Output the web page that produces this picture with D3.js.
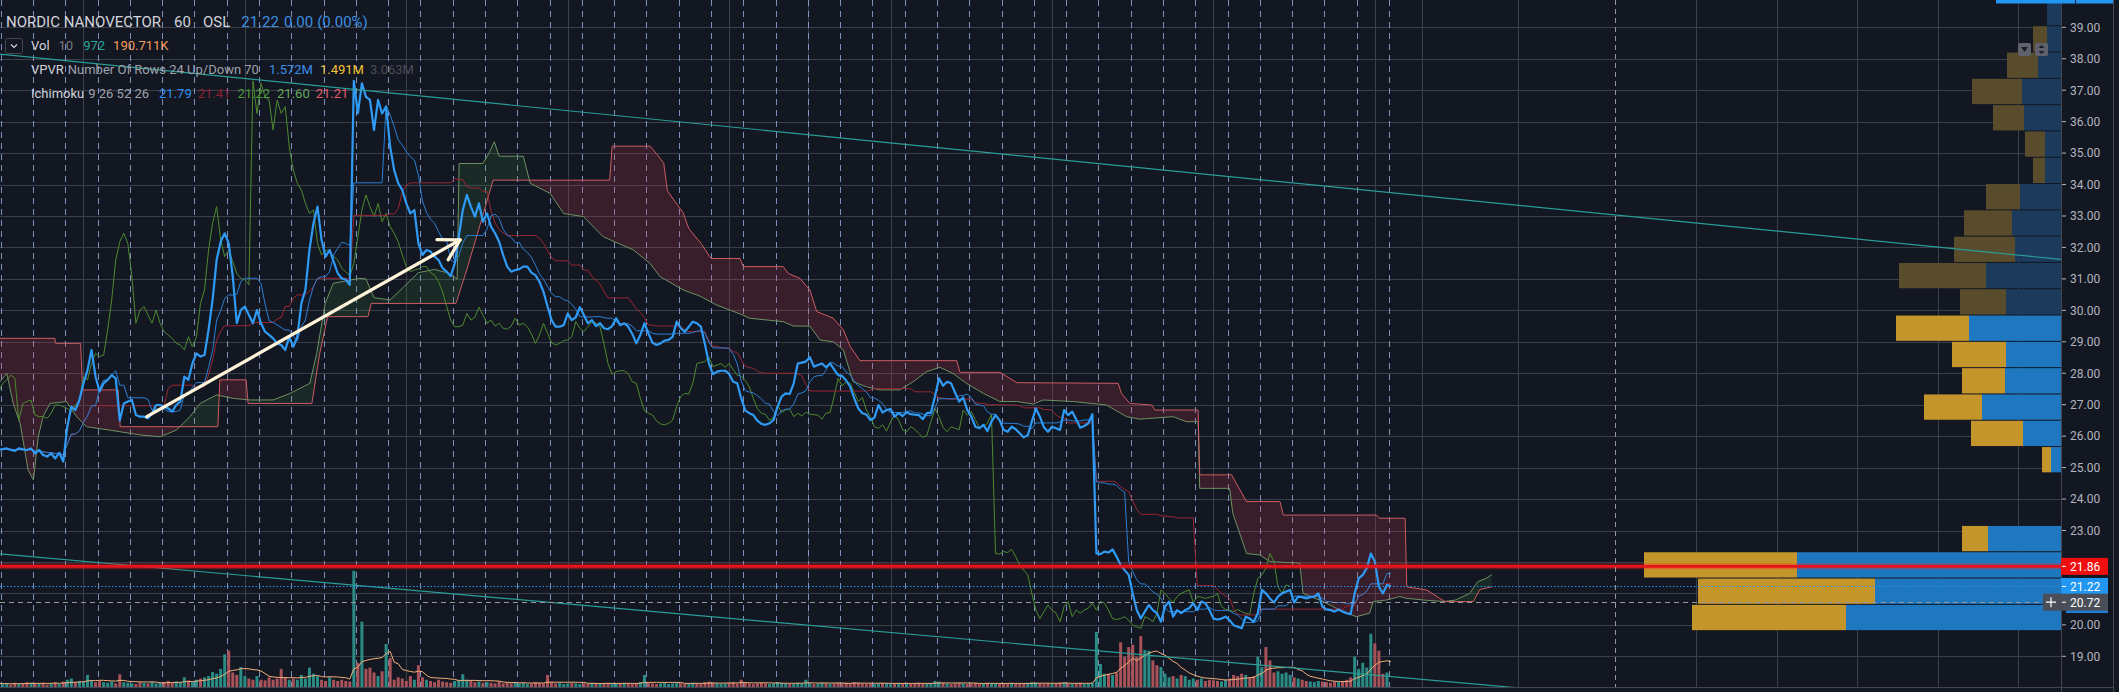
<!DOCTYPE html>
<html><head><meta charset="utf-8">
<script src="https://cdn.jsdelivr.net/npm/d3@7"></script>
<style>
html,body{margin:0;padding:0;background:#131722;overflow:hidden}
svg{display:block}
text{font-family:Roboto,"Noto Sans",sans-serif}
</style></head><body>
<svg id="c" width="2119" height="692"></svg>
<script>
// ---------------- DATA ----------------
const closes = [
25.56,
25.59,25.61,25.56,25.53,25.61,25.58,25.56,25.61,
25.45,25.56,25.40,25.35,25.45,25.29,25.47,25.19,
26.30,26.94,26.83,27.15,27.68,28.10,28.74,27.89,
27.42,27.68,27.79,27.94,27.84,26.50,27.04,27.10,
27.15,26.67,26.62,26.62,26.57,26.73,26.99,26.99,
26.94,26.88,26.78,26.99,27.10,27.89,27.79,28.31,
28.63,28.53,28.58,29.38,30.33,31.60,32.18,32.45,
32.13,31.07,29.59,30.01,30.12,29.85,29.59,30.01,
29.59,29.32,29.22,29.11,28.95,28.90,28.74,29.16,
28.84,29.16,30.22,30.65,31.92,32.77,33.30,32.24,
31.71,31.92,31.55,31.18,31.02,30.97,30.81,37.30,
36.26,37.22,36.79,36.69,35.73,36.69,36.26,36.48,
35.20,34.46,34.04,33.83,33.40,33.08,33.19,32.13,
31.76,31.92,31.87,31.71,31.60,31.34,31.23,31.09,
31.49,32.34,33.19,33.67,33.30,32.98,33.40,32.82,
33.08,32.66,32.45,32.18,31.76,31.39,31.23,31.28,
31.31,31.39,31.39,31.20,31.12,30.91,30.59,30.12,
29.69,29.48,29.48,29.53,29.90,29.69,29.78,30.10,
29.85,29.59,29.69,29.50,29.59,29.43,29.40,29.50,
29.75,29.53,29.59,29.48,29.25,28.95,29.22,29.59,
29.27,28.97,28.90,28.95,29.04,29.06,29.16,29.64,
29.43,29.32,29.48,29.64,29.59,29.48,28.92,28.30,
27.97,28.05,28.08,28.08,27.98,27.73,27.68,27.20,
26.81,26.73,26.67,26.49,26.39,26.36,26.41,26.51,
26.94,27.26,27.36,27.34,27.68,28.31,28.34,28.37,
28.51,28.21,28.26,28.31,28.19,28.31,28.12,27.94,
27.91,27.77,27.57,27.20,26.88,26.73,26.69,26.51,
26.59,26.99,26.75,26.83,26.86,26.62,26.73,26.64,
26.76,26.70,26.68,26.67,26.54,26.73,26.75,27.26,
27.84,27.60,27.73,27.68,27.38,27.10,27.23,26.83,
26.62,26.30,26.25,26.36,26.16,26.46,26.67,26.51,
26.20,26.14,26.30,26.22,26.09,25.96,26.03,26.46,
26.88,26.62,26.28,26.14,26.30,26.25,26.20,26.83,
26.67,26.78,26.53,26.27,26.32,26.41,26.70,22.27,
22.25,22.33,22.30,22.40,22.17,21.90,21.74,21.59,
21.00,20.47,20.20,20.42,20.63,20.47,20.37,20.10,
20.58,20.74,20.26,20.47,20.37,20.47,20.53,20.69,
20.47,20.74,20.69,20.47,20.20,20.17,20.20,20.26,
20.15,19.99,19.94,19.89,20.26,20.20,20.10,20.37,
21.11,21.00,20.84,20.71,20.90,21.00,21.06,21.11,
20.71,20.90,20.88,20.84,20.88,20.90,21.00,20.58,
20.49,20.47,20.42,20.49,20.42,20.37,20.34,21.00,
21.48,21.59,21.80,22.27,22.01,21.21,21.00,21.27,
21.22
];
// hourly volume, thousands of shares
const volumes = [
30,
25,30,20,35,25,30,40,35,
30,25,35,20,30,40,25,45,
60,70,40,50,45,100,55,40,
50,40,35,45,30,105,40,35,
30,25,40,35,30,45,30,35,
40,50,35,45,40,80,55,45,
60,70,80,90,125,110,150,270,
300,120,100,165,90,70,60,90,
60,55,80,60,70,150,80,60,
70,60,100,70,160,110,90,60,
50,80,60,50,60,50,45,960,
200,540,150,160,120,90,130,355,
240,60,80,70,50,90,60,180,
80,60,50,40,60,45,40,35,
50,60,105,60,50,40,45,35,
40,35,30,45,30,35,30,40,
30,35,25,30,40,35,30,100,
40,30,35,25,30,35,30,25,
30,25,35,30,25,30,35,30,
25,30,35,30,25,30,40,100,
35,30,25,30,35,25,30,35,
30,25,30,35,30,25,40,45,
35,30,25,30,35,40,30,60,
35,30,25,30,35,30,25,30,
40,35,30,25,30,35,30,60,
30,25,30,35,30,25,30,35,
30,35,30,40,35,30,25,30,
25,30,35,30,25,30,35,30,
30,25,30,35,30,25,30,50,
45,35,30,25,30,35,30,25,
30,35,25,30,35,30,25,30,
25,30,35,30,25,30,35,40,
35,30,25,30,25,30,35,40,
30,25,30,35,25,30,35,455,
190,110,110,100,120,370,250,330,
350,250,420,305,300,220,180,165,
110,80,90,70,100,90,60,70,
60,70,50,60,55,50,45,60,
70,100,90,110,100,80,90,250,
165,330,220,120,130,110,120,100,
80,70,60,50,45,40,50,45,
40,35,45,40,50,60,80,250,
150,200,160,440,360,300,110,120,
0.972
];
const volUpOverride = [272,273,285,288,290,312,313,336,337,338];
const volDownOverride = [278,341,342,343];

// Ichimoku leading spans: [bar index, price] vertices
const leadA = [[0,27.68],[2,28.0],[3.6,27.04],[5.3,26.41],[7.3,24.92],[8.6,24.61],[9.8,25.98],[11,26.62],[12.7,27.04],[16.8,27.10],[19.3,26.62],[21.8,26.30],[27.6,26.19],[35,26.04],[40,25.98],[44,26.19],[47.4,26.62],[49.9,27.04],[54,27.31],[58.1,27.2],[62.3,27.15],[68,27.15],[72.2,27.36],[77.1,27.68],[78.8,28.63],[80.9,30.22],[82.9,30.86],[89.5,31.02],[91,31.0],[93,30.4],[97,30.33],[100,30.7],[104,31.2],[108,31.3],[111,31.2],[113.6,31.0],[114.1,34.67],[120,34.67],[121.5,35.0],[122.8,35.36],[124,34.9],[130,34.9],[131.7,34.04],[136.6,33.72],[140,33.08],[144.9,32.98],[149.8,32.34],[157.3,31.92],[161.4,31.49],[163.9,31.07],[169.6,30.65],[173.8,30.45],[177.9,30.17],[184.4,29.85],[186,29.75],[194.4,29.64],[196.9,29.5],[201,29.5],[203.5,29.06],[206.8,29.0],[209.3,28.74],[211.7,27.73],[215,27.57],[218.4,27.47],[223.3,27.47],[226.6,27.73],[229.9,28.05],[233.2,28.19],[236.5,27.99],[239.8,27.68],[244,27.36],[248.1,27.10],[252.3,27.10],[256.4,27.02],[258.8,27.15],[266.3,27.10],[274.5,26.99],[279.5,26.62],[282.8,26.54],[291,26.62],[294.3,26.46],[297.2,26.46],[297.6,24.34],[305,24.34],[305.8,23.55],[309.2,22.27],[312.5,22.22],[315,22.01],[322.4,21.96],[323.2,21.00],[328.2,20.74],[332.3,20.47],[336.4,20.26],[339.7,20.37],[340.6,20.74],[343.9,20.79],[347.2,20.9],[348.5,20.85],[353,20.79],[358,20.74],[361,20.79],[364.5,21.0],[366.5,21.37],[368.6,21.48],[370,21.60]];
const leadB = [[0,29.11],[13.9,29.11],[14.1,28.95],[20.3,28.95],[20.8,27.47],[29.6,27.47],[30.1,26.30],[54.3,26.30],[54.8,27.79],[61.3,27.79],[61.8,27.04],[77.6,27.04],[79.5,28.6],[81.5,29.80],[91.5,29.80],[92.3,30.22],[113.3,30.22],[116,31.3],[119,32.6],[122.5,34.14],[151.4,34.14],[152.0,35.22],[161.4,35.22],[163.2,34.95],[164.8,34.67],[165.7,33.80],[169.6,33.10],[171,32.6],[174.2,32.1],[176.5,31.65],[183.7,31.65],[184.5,31.39],[194.4,31.39],[195.7,31.17],[198.5,31.02],[201,30.65],[202.7,29.96],[206.8,29.75],[209.3,29.38],[211,28.85],[213.4,28.40],[237.4,28.40],[238.2,28.03],[248.1,28.03],[252.3,27.70],[277.4,27.68],[278.2,27.36],[280.3,27.04],[285.7,26.99],[286.5,26.83],[297.2,26.83],[297.6,24.77],[305.5,24.77],[309.2,23.92],[317.5,23.92],[318.3,23.49],[341.4,23.49],[342.2,23.39],[348.5,23.39],[348.9,21.21],[353.8,21.11],[354.6,21.05],[357.1,20.84],[358.4,20.74],[365.4,20.74],[367,21.12],[370,21.21]];

const priceTicks = [19,20,21,22,23,24,25,26,27,28,29,30,31,32,33,34,35,36,37,38,39];
const timeGridBars = [21,61,101,141,181,200.5,221,261,301,341,352.65,376.4,420.5,440.6,460.4,480.5,500.3];
const barsPerSession = 8;

// Volume profile (visible range), 24 rows listed from top (high price) to bottom
const vpvrHigh = 39.87, vpvrLow = 19.80;
const vpvrUp   = [56,56,92,156,148,64,64,164,196,184,300,220,368,220,224,316,152,40,0,0,292,1056,744,860];
const vpvrDown = [0,56,124,200,124,80,48,136,192,244,348,184,292,216,172,232,208,36,0,0,104,612,708,616];
const valueAreaHigh = 29.83, valueAreaLow = 19.80;

// drawings (bar index, price)
const trendLines = [
  {b0:0, p0:38.15, b1:511, p1:31.62},
  {b0:0, p0:22.26, b1:400, p1:17.73}
];
const arrow = {b0:36.7, p0:26.62, b1:114.3, p1:32.24};
const resistance = 21.86;
const lastPrice = 21.22;
const crosshair = {bar:400.5, price:20.72};

const legendTitle = ["NORDIC NANOVECTOR", "60", "OSL", "21.22", "0.00", "(0.00%)"];
const legendVol = ["Vol", "10", "972", "190.711K"];
const legendVpvr = ["VPVR", "Number Of Rows 24 Up/Down 70", "1.572M", "1.491M", "3.063M"];
const legendIchi = ["Ichimoku", "9 26 52 26", "21.79", "21.41", "21.22", "21.60", "21.21"];

// ---------------- LAYOUT ----------------
const W = 2119, H = 692, paneR = 2061, paneB = 687;
const svg = d3.select("#c");
const N = closes.length;
const xs = d3.scaleLinear().domain([0, 345]).range([-1.3, 1391.0]);
const ys = d3.scaleLinear().domain([19, 39]).range([656.3, 27.3]);
const vs = d3.scaleLinear().domain([0, 1000]).range([paneB, paneB - 121]);

svg.append("rect").attr("width", W).attr("height", H).attr("fill", "#131722");
const defs = svg.append("defs");
defs.append("clipPath").attr("id", "pane").append("rect").attr("x", 0).attr("y", 0).attr("width", paneR).attr("height", paneB);
const g = svg.append("g").attr("clip-path", "url(#pane)");

// grid
g.append("g").selectAll("line").data(priceTicks).join("line")
  .attr("x1", 0).attr("x2", paneR).attr("y1", d => Math.round(ys(d)) + 0.5).attr("y2", d => Math.round(ys(d)) + 0.5)
  .attr("stroke", "#3b3f4a").attr("stroke-width", 1);
g.append("g").selectAll("line").data(timeGridBars).join("line")
  .attr("x1", d => Math.round(xs(d)) + 0.5).attr("x2", d => Math.round(xs(d)) + 0.5).attr("y1", 0).attr("y2", paneB)
  .attr("stroke", "#3b3f4a").attr("stroke-width", 1);
const breaks = [];
for (let i = 0; i < N - 1; i += barsPerSession) breaks.push(i + 0.5);
g.append("g").selectAll("line").data(breaks).join("line")
  .attr("x1", d => Math.round(xs(d)) + 0.5).attr("x2", d => Math.round(xs(d)) + 0.5).attr("y1", 0).attr("y2", paneB)
  .attr("stroke", "#8fa6d8").attr("stroke-width", 1).attr("stroke-dasharray", "6,5").attr("opacity", 0.85);

// volume profile
const rowH = (vpvrHigh - vpvrLow) / vpvrUp.length;
const maxTot = d3.max(vpvrUp.map((u, k) => u + vpvrDown[k]));
const vpW = d3.scaleLinear().domain([0, maxTot]).range([0, 417]);
const vp = g.append("g");
vpvrUp.forEach((u, k) => {
  const top = vpvrHigh - k * rowH, bot = top - rowH, mid = (top + bot) / 2;
  const inVA = mid <= valueAreaHigh && mid >= valueAreaLow;
  const y0 = ys(top), y1 = ys(bot) - 1;
  const wu = vpW(u), wd = vpW(vpvrDown[k]);
  if (wu > 0) vp.append("rect").attr("x", paneR - wu).attr("y", y0).attr("width", wu).attr("height", y1 - y0)
    .attr("fill", inVA ? "#1f77bf" : "#1b3a5c");
  if (wd > 0) vp.append("rect").attr("x", paneR - wu - wd).attr("y", y0).attr("width", wd).attr("height", y1 - y0)
    .attr("fill", inVA ? "#c3952b" : "#594c2c");
});

// volume
const volUp = closes.map((c, i) => {
  if (volUpOverride.includes(i)) return true;
  if (volDownOverride.includes(i)) return false;
  return i === 0 ? true : c >= closes[i - 1];
});
g.append("g").selectAll("rect").data(volumes).join("rect")
  .attr("x", (d, i) => xs(i) - 1.5).attr("width", 3)
  .attr("y", d => vs(d)).attr("height", d => paneB - vs(d))
  .attr("fill", (d, i) => volUp[i] ? "#2a8c85" : "#a8525a");
const volMA = volumes.map((v, i) => d3.mean(volumes.slice(Math.max(0, i - 9), i + 1)));
g.append("path").datum(volMA).attr("fill", "none").attr("stroke", "#f3b07a").attr("stroke-width", 1)
  .attr("d", d3.line().x((d, i) => xs(i)).y(d => ys(0) * 0 + vs(d)));

// Ichimoku: cloud between the two leading spans, coloured by which one is on top
const spanLine = d3.line().x(d => xs(d[0])).y(d => ys(d[1]));
const xA0 = xs(leadA[0][0]), xA1 = xs(leadA[leadA.length - 1][0]);
defs.append("clipPath").attr("id", "aboveA").append("path")
  .attr("d", spanLine(leadA) + `L${xA1},-2000L${xA0},-2000Z`);
defs.append("clipPath").attr("id", "belowA").append("path")
  .attr("d", spanLine(leadA) + `L${xA1},3000L${xA0},3000Z`);
defs.append("clipPath").attr("id", "aboveB").append("path")
  .attr("d", spanLine(leadB) + `L${xA1},-2000L${xA0},-2000Z`);
defs.append("clipPath").attr("id", "belowB").append("path")
  .attr("d", spanLine(leadB) + `L${xA1},3000L${xA0},3000Z`);
g.append("g").attr("clip-path", "url(#aboveA)").append("g").attr("clip-path", "url(#belowB)")
  .append("rect").attr("x", xA0).attr("y", 0).attr("width", xA1 - xA0).attr("height", paneB).attr("fill", "rgba(200,60,75,0.2)");
g.append("g").attr("clip-path", "url(#aboveB)").append("g").attr("clip-path", "url(#belowA)")
  .append("rect").attr("x", xA0).attr("y", 0).attr("width", xA1 - xA0).attr("height", paneB).attr("fill", "rgba(67,160,71,0.14)");

function mid(arr, i, len) {
  const s = arr.slice(Math.max(0, i - len + 1), i + 1);
  return (d3.max(s) + d3.min(s)) / 2;
}
const tenkan = closes.map((c, i) => mid(closes, i, 9));
const kijun = closes.map((c, i) => mid(closes, i, 26));
const chikou = closes.slice(25);
const ln = d3.line().x((d, i) => xs(i)).y(d => ys(d));
g.append("path").datum(leadA).attr("fill", "none").attr("stroke", "#6d9162").attr("stroke-width", 1).attr("d", spanLine);
g.append("path").datum(leadB).attr("fill", "none").attr("stroke", "#cc5c62").attr("stroke-width", 1).attr("d", spanLine);
g.append("path").datum(chikou).attr("fill", "none").attr("stroke", "#4d8a2f").attr("stroke-width", 1).attr("d", ln);
g.append("path").datum(kijun).attr("fill", "none").attr("stroke", "#9b2633").attr("stroke-width", 1).attr("d", ln);
g.append("path").datum(tenkan).attr("fill", "none").attr("stroke", "#2a7fd4").attr("stroke-width", 1).attr("d", ln);
g.append("path").datum(closes).attr("fill", "none").attr("stroke", "#2f9bf5").attr("stroke-width", 2.2)
  .attr("stroke-linejoin", "round").attr("d", ln);

// drawings
trendLines.forEach(t => {
  g.append("line").attr("x1", xs(t.b0)).attr("y1", ys(t.p0)).attr("x2", xs(t.b1)).attr("y2", ys(t.p1))
    .attr("stroke", "#2a9d95").attr("stroke-width", 1.2);
});
{
  const x0 = xs(arrow.b0), y0 = ys(arrow.p0), x1 = xs(arrow.b1), y1 = ys(arrow.p1);
  const ang = Math.atan2(y0 - y1, x0 - x1), L = 23;
  const col = "#fff4d9";
  g.append("line").attr("x1", x0).attr("y1", y0).attr("x2", x1).attr("y2", y1).attr("stroke", col).attr("stroke-width", 3.3).attr("stroke-linecap", "round");
  [ang + Math.PI / 6, ang - Math.PI / 6].forEach(a => {
    g.append("line").attr("x1", x1).attr("y1", y1).attr("x2", x1 + L * Math.cos(a)).attr("y2", y1 + L * Math.sin(a))
      .attr("stroke", col).attr("stroke-width", 3.3).attr("stroke-linecap", "round");
  });
}
g.append("line").attr("x1", 0).attr("x2", paneR).attr("y1", ys(resistance)).attr("y2", ys(resistance))
  .attr("stroke", "rgba(255,30,30,0.35)").attr("stroke-width", 6);
g.append("line").attr("x1", 0).attr("x2", paneR).attr("y1", ys(resistance)).attr("y2", ys(resistance))
  .attr("stroke", "#e8141c").attr("stroke-width", 2.6);
g.append("line").attr("x1", 0).attr("x2", paneR).attr("y1", Math.round(ys(lastPrice)) + 0.5).attr("y2", Math.round(ys(lastPrice)) + 0.5)
  .attr("stroke", "#2196f3").attr("stroke-width", 1).attr("stroke-dasharray", "1.5,2");
g.append("line").attr("x1", 0).attr("x2", paneR).attr("y1", Math.round(ys(crosshair.price)) + 0.5).attr("y2", Math.round(ys(crosshair.price)) + 0.5)
  .attr("stroke", "#9598a1").attr("stroke-width", 1).attr("stroke-dasharray", "5,4");
g.append("line").attr("x1", Math.round(xs(crosshair.bar)) + 0.5).attr("x2", Math.round(xs(crosshair.bar)) + 0.5).attr("y1", 0).attr("y2", paneB)
  .attr("stroke", "#9598a1").attr("stroke-width", 1).attr("stroke-dasharray", "5,4");

// VPVR buttons
[[2018, "tri"], [2035, "dbl"]].forEach(([bx, kind]) => {
  svg.append("rect").attr("x", bx).attr("y", 43).attr("width", 13).attr("height", 13).attr("rx", 2).attr("fill", "#5f626c");
  if (kind === "tri") svg.append("path").attr("d", `M${bx+3},${47} L${bx+10},${47} L${bx+6.5},${52} Z`).attr("fill", "#1c1f28");
  else svg.append("path").attr("d", `M${bx+3.5},${48} L${bx+9.5},${48} L${bx+6.5},${45} Z M${bx+3.5},${51} L${bx+9.5},${51} L${bx+6.5},${54} Z`).attr("fill", "#1c1f28");
});

// borders
svg.append("line").attr("x1", 0).attr("x2", 2113).attr("y1", paneB + 0.5).attr("y2", paneB + 0.5).attr("stroke", "#434651");
svg.append("line").attr("x1", paneR + 0.5).attr("x2", paneR + 0.5).attr("y1", 0).attr("y2", H).attr("stroke", "#434651");
svg.append("line").attr("x1", 2113.5).attr("x2", 2113.5).attr("y1", 0).attr("y2", H).attr("stroke", "#434651");
svg.append("rect").attr("x", 1996).attr("y", 0).attr("width", 117).attr("height", 3.5).attr("fill", "#2196f3");
svg.append("rect").attr("x", 2075).attr("y", 0).attr("width", 1).attr("height", 3.5).attr("fill", "#131722");

// price axis (tick labels hidden where a price tag covers them)
const ax = svg.append("g");
const tags = [resistance, lastPrice, crosshair.price];
priceTicks.forEach(p => {
  if (tags.some(t => Math.abs(ys(t) - ys(p)) < 15)) return;
  ax.append("line").attr("x1", paneR + 1).attr("x2", paneR + 5).attr("y1", ys(p)).attr("y2", ys(p)).attr("stroke", "#b2b5be");
  ax.append("text").attr("x", 2070).attr("y", ys(p) + 4.3).attr("fill", "#b2b5be").attr("font-size", 12).text(p.toFixed(2));
});
function tag(price, bg, x0) {
  const y = ys(price);
  ax.append("rect").attr("x", x0).attr("y", y - 8.5).attr("width", 2108 - x0).attr("height", 17).attr("fill", bg);
  ax.append("line").attr("x1", paneR + 1).attr("x2", paneR + 5).attr("y1", y).attr("y2", y).attr("stroke", "#ffffff");
  ax.append("text").attr("x", 2070).attr("y", y + 4.3).attr("fill", "#ffffff").attr("font-size", 12).text(price.toFixed(2));
}
ax.append("rect").attr("x", 2066).attr("y", 604).attr("width", 42).attr("height", 9).attr("fill", "#1e7fd6");
tag(resistance, "#f00f0f", paneR);
tag(lastPrice, "#2196f3", paneR);
tag(crosshair.price, "#4a4e59", 2043);
{
  const y = ys(crosshair.price);
  ax.append("path").attr("d", `M2046,${y} L2056,${y} M2051,${y-5} L2051,${y+5}`).attr("stroke", "#ffffff").attr("stroke-width", 1.2);
}

// legend: pieces laid out one after another
const lg = svg.append("g");
function row(x, y, parts, cols, gaps, size) {
  let cx = x;
  parts.forEach((s, k) => {
    const t = lg.append("text").attr("x", cx).attr("y", y).attr("fill", cols[k]).attr("font-size", size).text(s);
    cx += t.node().getComputedTextLength() + (gaps[k] || 0);
  });
}
row(6, 27, legendTitle, ["#d1d4dc","#d1d4dc","#d1d4dc","#3b8fe0","#3b8fe0","#3b8fe0"], [13, 12, 11, 5, 4], 15);
lg.append("rect").attr("x", 5.5).attr("y", 38.5).attr("width", 17).attr("height", 15).attr("rx", 2).attr("fill", "none").attr("stroke", "#434651");
lg.append("path").attr("d", "M11,44.5 L14,47.5 L17,44.5").attr("fill", "none").attr("stroke", "#d1d4dc").attr("stroke-width", 1.2);
row(31, 50, legendVol, ["#d1d4dc", "#787b86", "#26a69a", "#f59e5b"], [9, 10, 8], 13);
row(31, 74, legendVpvr, ["#d1d4dc", "#9fa2ab", "#3a8ee6", "#f2c233", "#4b4e57"], [4, 10, 7, 6], 13);
row(31, 98, legendIchi, ["#d1d4dc", "#9fa2ab", "#2f8ff0", "#8c2230", "#4e9a3e", "#67a85c", "#e35d66"], [4, 10, 6, 7, 7, 6], 13);
</script>
</body></html>
